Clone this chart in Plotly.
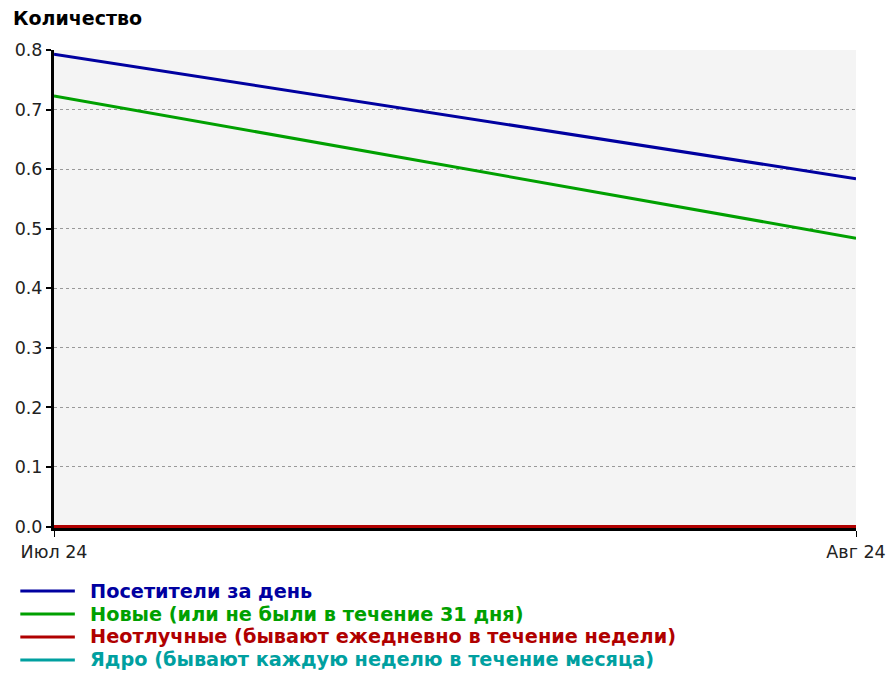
import plotly.graph_objects as go

months = ["Июл 24", "Авг 24"]
series_names = [
    "Посетители за день",
    "Новые (или не были в течение 31 дня)",
    "Неотлучные (бывают ежедневно в течение недели)",
    "Ядро (бывают каждую неделю в течение месяца)",
]
visitors = [0.793, 0.584]
new_users = [0.723, 0.484]
regulars = [0.0, 0.0]
core = [0.0, 0.0]
y_ticks = [0.0, 0.1, 0.2, 0.3, 0.4, 0.5, 0.6, 0.7, 0.8]
colors = ["#0000a0", "#00a000", "#b00000", "#00a0a0"]

FONT = "DejaVu Sans, sans-serif"

fig = go.Figure()
all_series = [visitors, new_users, regulars, core]
order = [0, 1, 3, 2]  # draw red last so it sits on top
for i in order:
    fig.add_trace(go.Scatter(
        x=months, y=all_series[i], mode="lines",
        line=dict(color=colors[i], width=3),
        name=series_names[i], showlegend=False, cliponaxis=False,
    ))

# custom legend
for i, name in enumerate(series_names):
    yy = -0.132 - i * 0.048
    fig.add_shape(type="line", xref="paper", yref="paper",
                  x0=-0.042, x1=0.026, y0=yy, y1=yy,
                  line=dict(color=colors[i], width=3))
    fig.add_annotation(xref="paper", yref="paper", x=0.043, y=yy,
                       text=f"<b>{name}</b>", showarrow=False,
                       xanchor="left", yanchor="middle",
                       font=dict(family=FONT, size=19.3, color=colors[i]))

fig.add_annotation(xref="paper", yref="paper", x=-0.053, y=1.067,
                   text="<b>Количество</b>", showarrow=False,
                   xanchor="left", yanchor="middle",
                   font=dict(family=FONT, size=19, color="black"))

fig.update_layout(
    width=887, height=673,
    margin=dict(l=54, r=31, t=50, b=145),
    paper_bgcolor="white", plot_bgcolor="#f4f4f4",
    font=dict(family=FONT, size=17, color="#222"),
    showlegend=False,
)
fig.update_xaxes(
    type="category", range=[0, 1], automargin=False, layer="below traces",
    showgrid=True, gridcolor="#999", griddash="dot", gridwidth=1,
    showline=True, linecolor="black", linewidth=3,
    ticks="outside", ticklen=6, tickcolor="black", tickwidth=1,
    tickfont=dict(family=FONT, size=17.5, color="#222"),
    zeroline=False,
)
fig.update_yaxes(
    range=[-0.0025, 0.8], automargin=False, layer="below traces",
    tickvals=y_ticks, ticktext=[f"{v:.1f}" for v in y_ticks],
    showgrid=True, gridcolor="#999", griddash="dot", gridwidth=1,
    showline=True, linecolor="black", linewidth=3,
    ticks="outside", ticklen=5, tickcolor="black", tickwidth=2,
    tickfont=dict(family=FONT, size=17.5, color="#222"),
    zeroline=False,
)

fig.write_html("out.html", config={"displayModeBar": False},
               post_script="document.body.style.margin='0';")
